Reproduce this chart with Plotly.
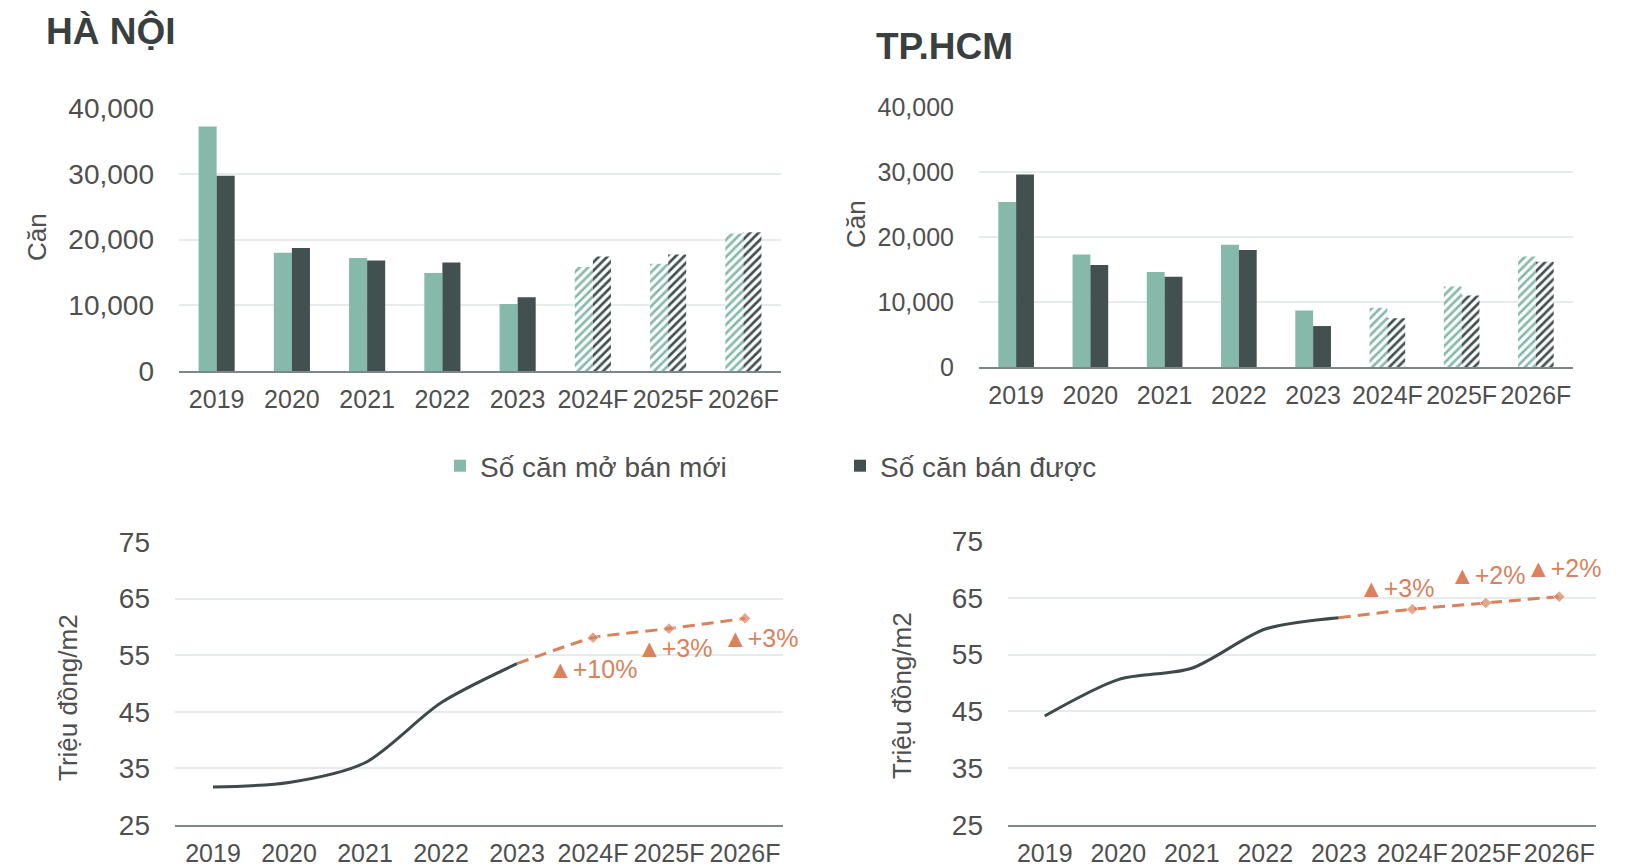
import plotly.graph_objects as go

years = ["2019", "2020", "2021", "2022", "2023", "2024F", "2025F", "2026F"]

hn_new = [37200, 18000, 17200, 14900, 10200, 15800, 16300, 20900]
hn_sold = [29700, 18700, 16800, 16500, 11200, 17400, 17700, 21100]
hcm_new = [25400, 17300, 14600, 18800, 8700, 9100, 12400, 17000]
hcm_sold = [29600, 15700, 13900, 18000, 6300, 7500, 11000, 16200]

hn_price_actual = [31.7, 32.5, 36.0, 46.6, 53.5]
hn_price_fc = [53.5, 58.1, 59.7, 61.5]
hcm_price_actual = [44.2, 50.6, 52.6, 59.5, 61.5]
hcm_price_fc = [61.5, 63.0, 64.1, 65.2]

hn_growth_labels = ["▲+10%", "▲+3%", "▲+3%"]
hn_growth_pos = [(4.99, 52.6), (6.07, 56.3), (7.21, 58.0)]
hcm_growth_labels = ["▲+3%", "▲+2%", "▲+2%"]
hcm_growth_pos = [(4.78, 66.7), (6.02, 69.0), (7.06, 70.2)]

LIGHT = "#86B9AA"
DARK = "#435050"
ORANGE = "#D9825C"
TXT = "#4F4F4F"
GRID = "#E6ECEB"
AXIS = "#7D8787"
FONT = "Liberation Sans, Arial, sans-serif"

W, H = 1633, 866
shapes_pat = ["", "", "", "", "", "/", "/", "/"]

fig = go.Figure()


def px_x(a, b):
    return [a / W, b / W]


def px_y(top, bottom):
    return [1 - bottom / H, 1 - top / H]


def add_bars(new, sold, xa, ya, show):
    for name, vals, col in [("Số căn mở bán mới", new, LIGHT), ("Số căn bán được", sold, DARK)]:
        fig.add_trace(go.Bar(
            x=years, y=vals, name=name, xaxis=xa, yaxis=ya, showlegend=show,
            marker=dict(color=col, line=dict(width=0),
                        pattern=dict(shape=shapes_pat, fgcolor=col, bgcolor="white",
                                     size=6, solidity=0.45, fillmode="replace")),
            offsetgroup=name, legendgroup=name,
        ))


add_bars(hn_new, hn_sold, "x", "y", True)
add_bars(hcm_new, hcm_sold, "x2", "y2", False)


def add_price(actual, fc, xa, ya):
    fig.add_trace(go.Scatter(x=years[:5], y=actual, mode="lines", xaxis=xa, yaxis=ya,
                             line=dict(color="#3E4A4A", width=3, shape="spline", smoothing=0.8),
                             showlegend=False))
    fig.add_trace(go.Scatter(x=years[4:], y=fc, mode="lines+markers", xaxis=xa, yaxis=ya,
                             line=dict(color=ORANGE, width=3, dash="12px,7px", shape="spline", smoothing=0.5),
                             marker=dict(symbol=["circle"] + ["diamond"] * 3, size=[0, 9, 9, 9], color=ORANGE),
                             showlegend=False))


add_price(hn_price_actual, hn_price_fc, "x3", "y3")
add_price(hcm_price_actual, hcm_price_fc, "x4", "y4")

annotations = []
for lab, (xv, yv) in zip(hn_growth_labels, hn_growth_pos):
    annotations.append(dict(x=xv, y=yv, xref="x3", yref="y3", text=lab, showarrow=False,
                            font=dict(size=25, color=ORANGE, family=FONT), xanchor="center", yanchor="middle"))
for lab, (xv, yv) in zip(hcm_growth_labels, hcm_growth_pos):
    annotations.append(dict(x=xv, y=yv, xref="x4", yref="y4", text=lab, showarrow=False,
                            font=dict(size=25, color=ORANGE, family=FONT), xanchor="center", yanchor="middle"))

# titles
annotations.append(dict(x=44 / W, y=1 - 31 / H, xref="paper", yref="paper", text="<b>HÀ NỘI</b>",
                        showarrow=False, xanchor="left", yanchor="middle",
                        font=dict(size=37, color="#3A3F3F", family=FONT)))
annotations.append(dict(x=874 / W, y=1 - 47 / H, xref="paper", yref="paper", text="<b>TP.HCM</b>",
                        showarrow=False, xanchor="left", yanchor="middle",
                        font=dict(size=37, color="#3A3F3F", family=FONT)))
# axis titles
for (xp, yp, t) in [(37, 237, "Căn"), (856, 224, "Căn"), (68, 698, "Triệu đồng/m2"), (902, 696, "Triệu đồng/m2")]:
    annotations.append(dict(x=xp / W, y=1 - yp / H, xref="paper", yref="paper", text=t, textangle=-90,
                            showarrow=False, xanchor="center", yanchor="middle",
                            font=dict(size=26, color=TXT, family=FONT)))

xcommon = dict(type="category", categoryorder="array", categoryarray=years, range=[-0.5, 7.5],
               showgrid=False, showline=True, linecolor=AXIS, linewidth=2, ticks="", automargin=False,
               tickangle=0, tickfont=dict(size=25, color=TXT, family=FONT), ticklabelstandoff=5,
               fixedrange=True)


def ycommon(size):
    return dict(showgrid=True, gridcolor=GRID, gridwidth=2, zeroline=False, showline=False, ticks="",
                automargin=False, tickfont=dict(size=size, color=TXT, family=FONT),
                ticklabelstandoff=24, fixedrange=True)


fig.update_layout(
    width=W, height=H, margin=dict(l=0, r=0, t=0, b=0, pad=0, autoexpand=False),
    paper_bgcolor="white", plot_bgcolor="white",
    barmode="group", bargap=0.52, bargroupgap=0,
    font=dict(family=FONT, color=TXT),
    xaxis=dict(domain=px_x(179, 781), anchor="y", **xcommon),
    yaxis=dict(domain=px_y(108, 371), anchor="x", range=[0, 40000], tickvals=[0, 10000, 20000, 30000, 40000],
               tickformat=",d", **ycommon(28)),
    xaxis2=dict(domain=px_x(979, 1573), anchor="y2", **xcommon),
    yaxis2=dict(domain=px_y(107, 367), anchor="x2", range=[0, 40000], tickvals=[0, 10000, 20000, 30000, 40000],
                tickformat=",d", **ycommon(25)),
    xaxis3=dict(domain=px_x(175, 783), anchor="y3", **xcommon),
    yaxis3=dict(domain=px_y(542, 825), anchor="x3", range=[25, 75], tickvals=[25, 35, 45, 55, 65, 75],
                **ycommon(28)),
    xaxis4=dict(domain=px_x(1008, 1596), anchor="y4", **xcommon),
    yaxis4=dict(domain=px_y(541, 825), anchor="x4", range=[25, 75], tickvals=[25, 35, 45, 55, 65, 75],
                **ycommon(28)),
    legend=dict(orientation="h", x=440 / W, y=1 - 466 / H, xanchor="left", yanchor="middle",
                font=dict(size=28, color=TXT, family=FONT), entrywidth=355, entrywidthmode="pixels",
                bgcolor="rgba(0,0,0,0)", itemclick=False, itemdoubleclick=False),
    annotations=annotations,
    showlegend=True,
)

fig.write_html("out.html", config={"displayModeBar": False},
               post_script="document.body.style.margin='0';document.body.style.overflow='hidden';")
